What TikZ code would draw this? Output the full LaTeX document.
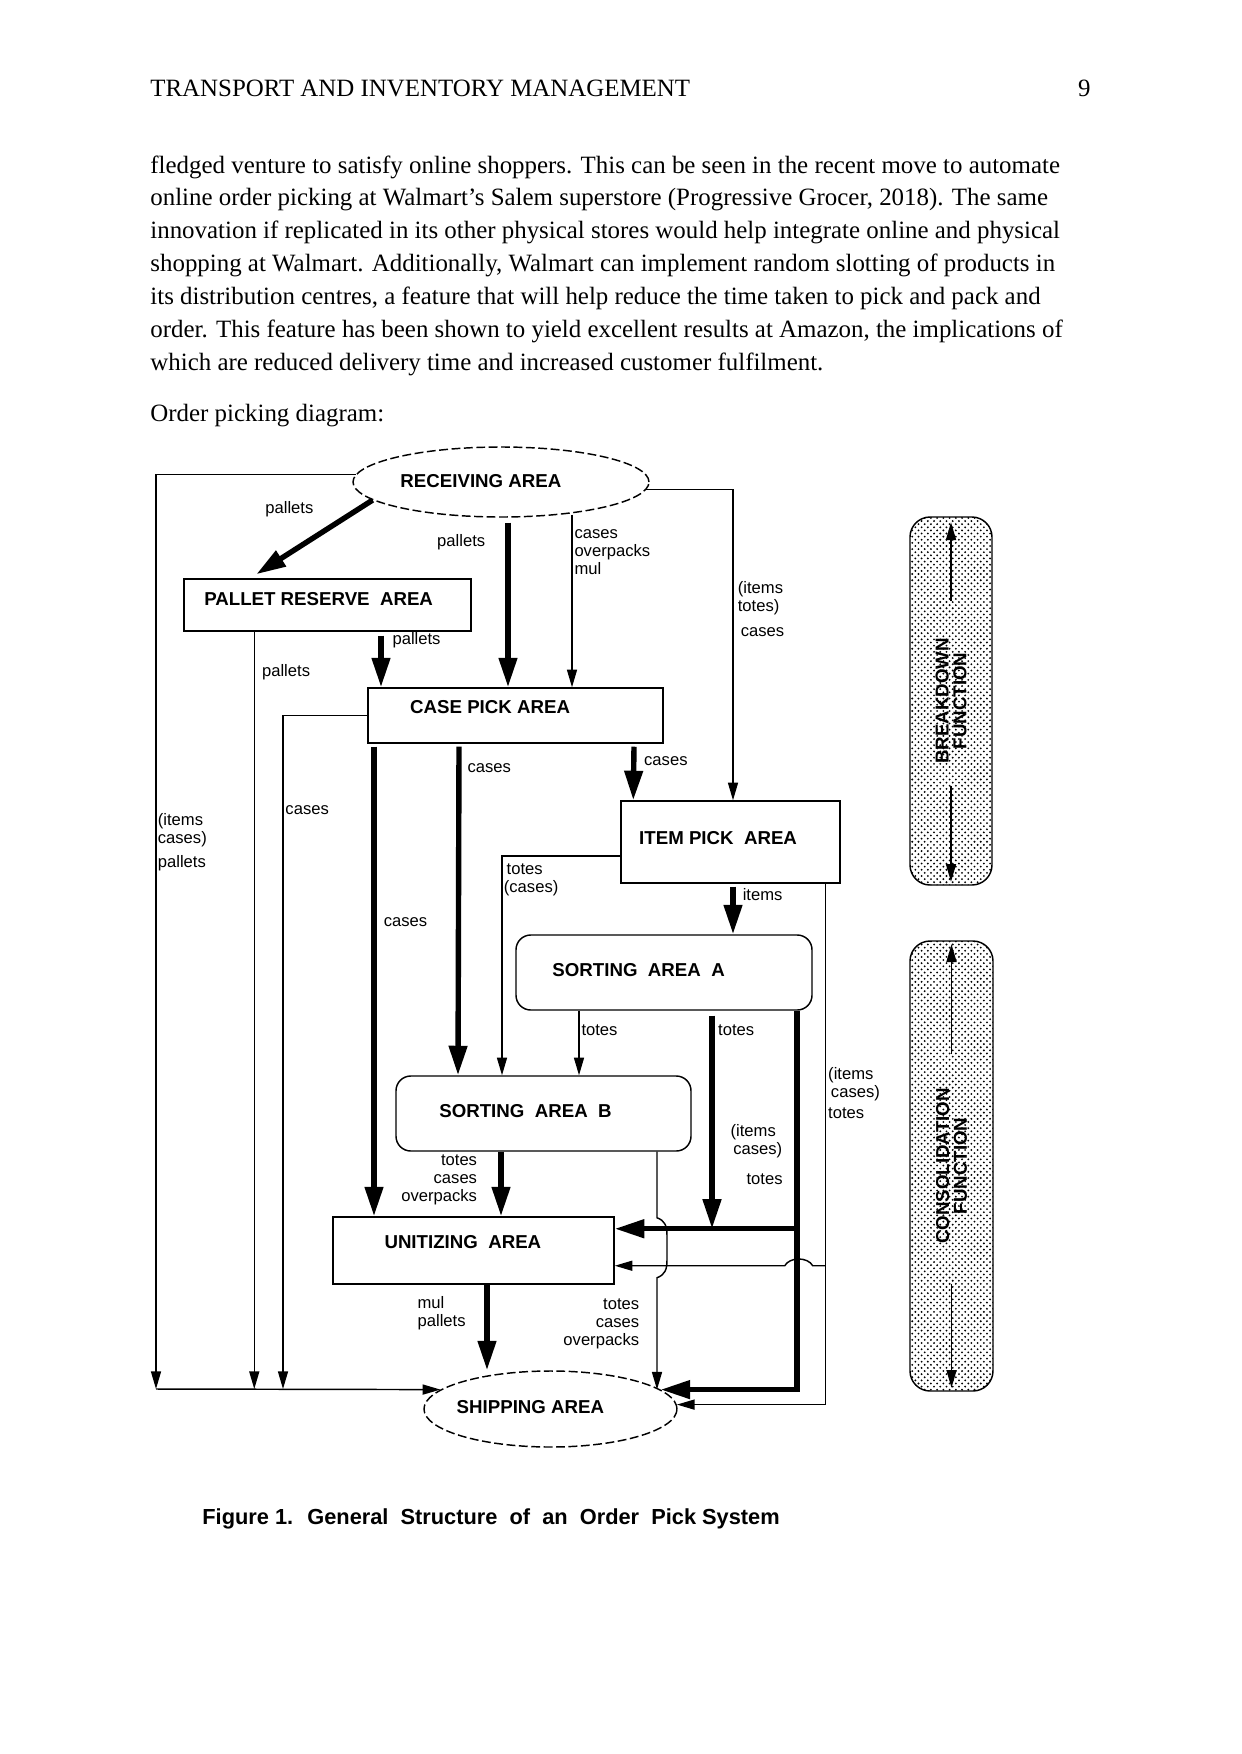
\documentclass[tikz,border=0pt]{standalone}
\usepackage{fontspec}
\setmainfont{Liberation Serif}
\newfontfamily\diagfont{Liberation Sans}
\usetikzlibrary{arrows.meta, positioning, calc, shapes.geometric, patterns}
\newcommand{\pxl}{0.16933mm}
% area caption set left of and above the shape's centre
\newcommand{\inset}[3]{\raisebox{#2}{#3}\hspace*{#1}}

\begin{document}
\begin{tikzpicture}[
    x=\pxl, y=-\pxl,
    bodyline/.style={font=\fontsize{12}{14}\selectfont, anchor=base west, inner sep=0pt},
    area/.style={rectangle, draw, line width=0.7pt, inner sep=0pt,
                 font=\diagfont\bfseries\fontsize{9}{11}\selectfont},
    sortarea/.style={area, rounded corners=2.5mm},
    dock/.style={ellipse, draw, line width=0.7pt, dash pattern=on 1.5mm off 0.6mm, inner sep=0pt,
                 font=\diagfont\bfseries\fontsize{9}{11}\selectfont},
    func/.style={rectangle, rounded corners=3.4mm, draw, line width=0.7pt, rotate=90,
                 pattern=crosshatch dots, pattern color=black, align=center,
                 font=\diagfont\bfseries\fontsize{9}{8.5}\selectfont},
    lbl/.style={font=\diagfont\fontsize{8}{8.7}\selectfont, inner sep=0pt, align=left},
    flow/.style={-{Triangle[length=3mm, width=1.7mm]}, line width=0.7pt},
    bulk/.style={-{Triangle[length=5mm, width=3mm]}, line width=2.6pt},
]
    \path[fill=white, use as bounding box] (0,0) rectangle (1241,1754);

    % Page text
    \node[bodyline] (head) at (150,96) {TRANSPORT AND INVENTORY MANAGEMENT};
    \node[bodyline, anchor=base east] (pageno) at (1091,96) {9};
    \node[bodyline] (ln1) at (150,173) {fledged venture to satisfy online shoppers. This can be seen in the recent move to automate};
    \node[bodyline, below=5.56mm of ln1.base west, anchor=base west] (ln2) {online order picking at Walmart’s Salem superstore (Progressive Grocer, 2018). The same};
    \node[bodyline, below=5.56mm of ln2.base west, anchor=base west] (ln3) {innovation if replicated in its other physical stores would help integrate online and physical};
    \node[bodyline, below=5.56mm of ln3.base west, anchor=base west] (ln4) {shopping at Walmart. Additionally, Walmart can implement random slotting of products in};
    \node[bodyline, below=5.56mm of ln4.base west, anchor=base west] (ln5) {its distribution centres, a feature that will help reduce the time taken to pick and pack and};
    \node[bodyline, below=5.56mm of ln5.base west, anchor=base west] (ln6) {order. This feature has been shown to yield excellent results at Amazon, the implications of};
    \node[bodyline, below=5.56mm of ln6.base west, anchor=base west] (ln7) {which are reduced delivery time and increased customer fulfilment.};
    \node[bodyline, below=8.64mm of ln7.base west, anchor=base west] (intro) {Order picking diagram:};

    % Areas
    \node[dock, minimum width=296*\pxl, minimum height=70*\pxl] (recv) at (501,482) {\inset{6.8mm}{0.3mm}{RECEIVING AREA}};
    \node[area, minimum width=287*\pxl, minimum height=52*\pxl] (palres) at (327.5,605) {\inset{3mm}{2mm}{PALLET RESERVE~ AREA}};
    \node[area, minimum width=295*\pxl, minimum height=55*\pxl] (casepick) at (515.5,715.5) {\inset{8.6mm}{2.9mm}{CASE PICK AREA}};
    \node[area, minimum width=219*\pxl, minimum height=82*\pxl] (itempick) at (730.5,842) {\inset{4.2mm}{1.4mm}{ITEM PICK~ AREA}};
    \node[sortarea, minimum width=296*\pxl, minimum height=75*\pxl] (sortA) at (664,972.5) {\inset{8.6mm}{0.85mm}{SORTING~ AREA~ A}};
    \node[sortarea, minimum width=295*\pxl, minimum height=75*\pxl] (sortB) at (543.5,1113.5) {\inset{6.1mm}{0.85mm}{SORTING~ AREA~ B}};
    \node[area, minimum width=281*\pxl, minimum height=67*\pxl] (unit) at (473.5,1250.5) {\inset{3.6mm}{2.9mm}{UNITIZING~ AREA}};
    \node[dock, inner xsep=-2mm, minimum width=253*\pxl, minimum height=76*\pxl] (ship) at (550.5,1409) {\inset{6.8mm}{0.7mm}{SHIPPING AREA}};

    % Function bars
    \node[func, minimum width=368*\pxl, minimum height=82*\pxl] (breakdown) at (951,701) {BREAKDOWN\\FUNCTION};
    \node[func, minimum width=450*\pxl, minimum height=83*\pxl] (consol) at (951.5,1166) {CONSOLIDATION\\FUNCTION};
    \draw[flow] ($(breakdown.east)+(0,85)$) -- ($(breakdown.east)+(0,6)$);
    \draw[flow] ($(breakdown.west)+(0,-100)$) -- ($(breakdown.west)+(0,-4)$);
    \draw[flow] ($(consol.east)+(0,114)$) -- ($(consol.east)+(0,4)$);
    \draw[flow] ($(consol.west)+(0,-108)$) -- ($(consol.west)+(0,-4)$);

    \coordinate (leftfoot) at (156,1389);

    % From receiving
    \draw[bulk] (recv.188) -- ($(palres.north west)+(73,-4)$)
        node[lbl, pos=0.4, anchor=south east, xshift=-1.7mm, yshift=1.7mm] {pallets};
    \draw[bulk] ($(recv.south)+(7,5)$) -- ($(casepick.north)+(-7.5,0)$)
        node[lbl, pos=0.12, anchor=east, xshift=-3.4mm] {pallets};
    \draw[flow] ($(recv.south)+(71,-3)$) -- ($(casepick.north)+(56.5,0)$)
        node[lbl, pos=0.08, anchor=north west, xshift=0.3mm] {cases\\overpacks\\mul};
    \draw[flow] (recv.-3) -| ($(itempick.north)+(2.5,0)$)
        node[lbl, pos=0.647, anchor=north west, xshift=0.7mm] {(items\\totes)}
        node[lbl, pos=0.721, anchor=north west, xshift=1.2mm] {cases};
    \draw[flow] (recv.177) -| (leftfoot)
        node[lbl, pos=0.685, anchor=north west, xshift=0.2mm] {(items\\cases)}
        node[lbl, pos=0.708, anchor=north west, xshift=0.2mm] {pallets};
    \draw[flow] (leftfoot) -- (ship.170);

    % From pallet reserve
    \draw[flow] ($(palres.south west)+(71,0)$) coordinate (pr) -- (pr |- leftfoot)
        node[lbl, pos=0.054, anchor=west, xshift=1.2mm] {pallets};
    \draw[bulk] ($(palres.south)+(53.5,4)$) -- ($(casepick.north)+(-134.5,0)$)
        node[lbl, pos=0.09, anchor=west, xshift=1.5mm] {pallets};

    % From case pick
    \draw[flow] (casepick.west) -| ($(leftfoot)+(127,0)$)
        node[lbl, pos=0.57, anchor=west, xshift=0.3mm] {cases};
    \draw[bulk] ($(casepick.south)+(-141.5,3)$) -- ($(unit.north)+(-99.5,0)$)
        node[lbl, pos=0.374, anchor=west, xshift=1.2mm] {cases};
    \draw[bulk] ($(casepick.south)+(-56.5,3)$) -- ($(sortB.north)+(-85.5,0)$)
        node[lbl, pos=0.064, anchor=west, xshift=1mm] {cases};
    \draw[bulk] ($(casepick.south)+(118.5,3)$) -- ($(itempick.north west)+(13,0)$)
        node[lbl, pos=0.27, anchor=west, xshift=1.3mm] {cases};

    % From item pick
    \draw[flow] ($(itempick.west)+(0,14)$) -| ($(sortB.north)+(-41.5,0)$)
        node[lbl, pos=0.516, anchor=north west, xshift=0.2mm] {\,totes\\(cases)};
    \draw[bulk] ($(itempick.south)+(2.5,3)$) -- ($(sortA.north)+(69,0)$)
        node[lbl, pos=0.16, anchor=west, xshift=1.2mm] {items};
    \draw[flow] ($(itempick.south east)+(-15,0)$) coordinate (ir) |- (ship.2)
        node[lbl, pos=0.176, anchor=north west, xshift=0.3mm] {(items\\\,cases)\\[1pt]totes};
    \coordinate (hopstart) at ($(ir)+(0,382)$);
    \draw[flow] (hopstart) -- ++(-13,0) .. controls +(-5,-9) and +(5,-9) .. ++(-28,0) -- (unit.east |- hopstart);

    % From sorting area A
    \draw[flow] ($(sortA.south)+(-85,0)$) -- ($(sortB.north)+(35.5,0)$)
        node[lbl, pos=0.3, anchor=west, xshift=0.3mm] {totes};
    \draw[bulk] ($(sortA.south)+(133,0)$) coordinate (cs) |- (ship.10)
        node[lbl, pos=0.147, anchor=north west, xshift=-11.7mm] {(items\\\,cases)}
        node[lbl, pos=0.212, anchor=north west, xshift=-9mm] {totes};
    \coordinate (tee) at ($(cs)+(0,218)$);
    \draw[bulk] (tee) -- (unit.east |- tee);
    \draw[bulk] ($(sortA.south)+(48,5)$) coordinate (st) -- (st |- tee)
        node[lbl, pos=0.07, anchor=west, xshift=0.6mm] {totes};

    % From sorting area B
    \draw[bulk] ($(sortB.south)+(-42.5,0)$) -- ($(unit.north)+(27.5,0)$)
        node[lbl, pos=0, anchor=north east, xshift=-3.6mm, align=right] {totes\\cases\\overpacks};
    \draw[flow] ($(sortB.south)+(113.5,0)$) coordinate (sbr) -- ++(0,66)
        .. controls +(8,3) and +(0,-10) .. ++(10,18) -- ++(0,24)
        .. controls +(0,10) and +(8,-3) .. ++(-10,18) -- (sbr |- ship.10)
        node[lbl, pos=0.18, anchor=north east, xshift=-2.9mm, align=right] {totes\\cases\\overpacks};

    % From unitizing
    \draw[bulk] ($(unit.south)+(13.5,0)$) coordinate (us) -- (us |- ship.north)
        node[lbl, pos=0.11, anchor=north west, xshift=-12.2mm] {mul\\pallets};

    % Caption
    \node[anchor=base west, inner sep=0pt, font=\diagfont\bfseries\fontsize{10.5}{12}\selectfont] (caption) at (202,1524)
        {Figure 1.~ General~ Structure~ of~ an~ Order~ Pick System};
\end{tikzpicture}
\end{document}
